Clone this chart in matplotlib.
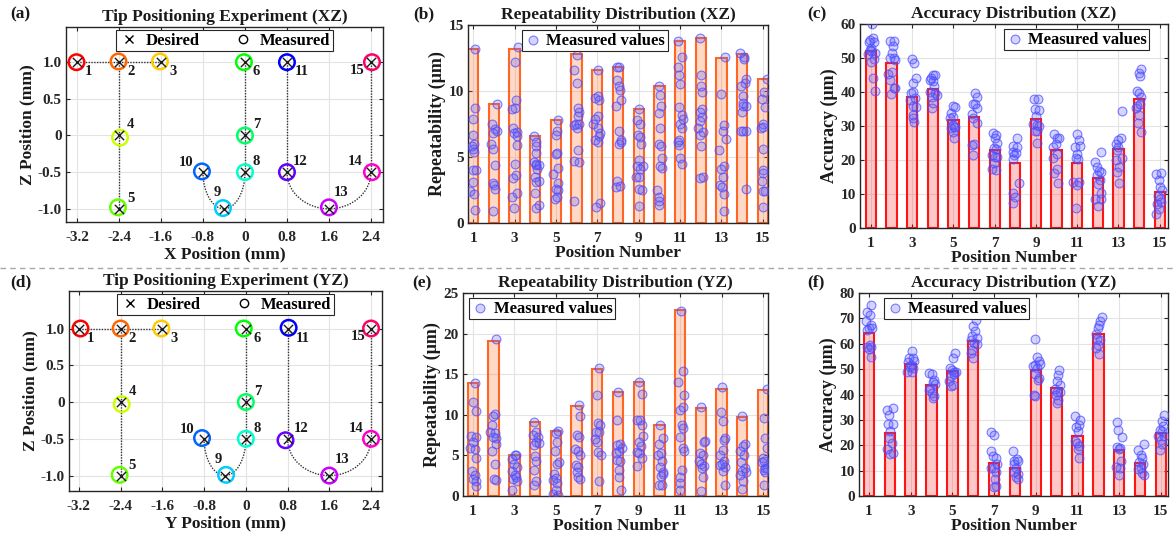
import colorsys
import matplotlib
matplotlib.use("Agg")
import matplotlib.pyplot as plt
from matplotlib.path import Path
from matplotlib.patches import PathPatch
from matplotlib.lines import Line2D

plt.rcParams['font.family'] = ['Liberation Serif', 'DejaVu Serif']
plt.rcParams['font.weight'] = 'bold'
plt.rcParams['axes.labelweight'] = 'bold'
plt.rcParams['axes.titleweight'] = 'bold'

# ---------------- data ----------------
positions = list(range(1, 16))
pos_labels = [str(p) for p in positions]

desired_h = [-3.2, -2.4, -1.6, -2.4, -2.4, 0.0, 0.0, 0.0, -0.4, -0.8, 0.8, 0.8, 1.6, 2.4, 2.4]
desired_z = [1.0, 1.0, 1.0, 0.0, -1.0, 1.0, 0.0, -0.5, -1.0, -0.5, 1.0, -0.5, -1.0, -0.5, 1.0]

meas_xz_x = [-3.21, -2.41, -1.62, -2.38, -2.42, -0.02, 0.0, 0.0, -0.42, -0.82, 0.80, 0.80, 1.60, 2.42, 2.42]
meas_xz_z = [1.0, 1.01, 1.01, -0.03, -0.98, 1.0, 0.0, -0.5, -0.99, -0.49, 1.0, -0.5, -0.98, -0.5, 1.0]
meas_yz_y = [-3.17, -2.40, -1.62, -2.38, -2.42, -0.04, 0.0, 0.0, -0.38, -0.84, 0.82, 0.76, 1.60, 2.40, 2.40]
meas_yz_z = [1.0, 1.0, 1.0, -0.03, -0.99, 1.0, 0.0, -0.5, -0.99, -0.49, 1.01, -0.52, -1.0, -0.5, 1.0]

# path: straight segments and curved segments (indices into the position lists)
straight_paths = [[0, 1, 2], [1, 3, 4], [5, 6, 7], [10, 11], [13, 14]]
curved_paths = [[9, 8, 7], [11, 12, 13]]

# Repeatability XZ (b)
rep_xz_bar = [13.2, 9.0, 13.2, 6.6, 7.8, 12.8, 11.6, 11.8, 8.6, 10.4, 13.8, 14.0, 12.5, 12.8, 10.9]
rep_xz_vals = [
    [13.2, 8.7, 7.9, 6.7, 6.0, 5.6, 5.4, 4.0, 4.0, 3.1, 2.4, 2.2, 1.0, 5.8],
    [9.0, 7.5, 7.1, 7.0, 6.8, 6.0, 5.6, 4.4, 3.0, 2.9, 2.6, 0.9],
    [13.3, 12.2, 9.3, 8.6, 8.7, 7.2, 6.9, 6.8, 6.6, 5.9, 4.5, 3.6, 3.4, 2.0, 2.3, 1.1],
    [6.6, 6.1, 5.8, 5.3, 4.6, 4.5, 4.4, 4.4, 4.1, 3.5, 3.1, 3.2, 2.3, 1.4, 1.1],
    [7.8, 7.0, 6.7, 5.3, 5.2, 4.2, 3.7, 3.0, 2.6, 2.5, 2.0, 1.8],
    [12.7, 11.6, 10.6, 8.7, 8.4, 8.1, 7.5, 7.4, 7.5, 7.2, 5.5, 4.7, 4.6, 1.7],
    [11.6, 9.5, 9.6, 9.3, 8.1, 7.9, 7.5, 7.2, 6.8, 6.6, 6.3, 6.1, 1.5, 1.2],
    [11.8, 11.8, 10.8, 10.4, 10.1, 9.3, 8.9, 7.0, 6.3, 6.0, 6.1, 3.2, 2.7, 2.8],
    [8.6, 7.8, 7.5, 6.7, 6.5, 6.0, 4.8, 4.3, 4.3, 4.1, 3.5, 3.5, 2.6, 2.5, 1.3],
    [10.4, 9.7, 8.9, 8.3, 7.2, 6.0, 5.8, 4.9, 4.3, 4.2, 2.5, 2.0, 1.7, 1.4],
    [13.8, 12.6, 11.8, 11.2, 10.5, 8.8, 8.2, 7.9, 7.5, 7.2, 6.3, 6.1, 5.9, 4.9, 4.5],
    [14.0, 11.2, 10.4, 9.9, 8.6, 8.4, 8.0, 7.7, 7.2, 6.9, 6.7, 5.8, 3.4, 3.5],
    [12.6, 9.8, 7.4, 7.0, 6.4, 5.5, 4.3, 4.1, 3.5, 2.9, 2.7, 2.2, 0.9],
    [12.9, 12.6, 12.4, 10.9, 10.6, 10.4, 9.6, 9.1, 8.9, 8.9, 8.4, 7.0, 7.0, 7.0, 2.6],
    [10.9, 9.9, 9.4, 8.8, 7.5, 7.2, 7.3, 5.6, 4.0, 3.8, 3.2, 2.4, 2.4, 1.2],
]
rep_xz_offs = [
    [0.11, 0.08, -0.03, 0.0, 0.03, 0.0, 0.05, -0.03, 0.16, 0.0, -0.13, 0.05, 0.08, -0.05],
    [0.16, -0.11, 0.05, 0.13, -0.03, -0.15, -0.03, 0.05, -0.06, 0.0, 0.05, -0.06],
    [0.18, 0.02, 0.06, -0.1, 0.02, -0.06, 0.1, -0.03, 0.1, 0.1, 0.02, 0.06, -0.06, -0.1, 0.1, -0.03],
    [-0.06, 0.06, 0.03, 0.06, -0.06, 0.06, 0.03, 0.19, 0.1, -0.02, 0.06, 0.19, -0.02, 0.19, 0.02],
    [0.11, 0.03, -0.02, 0.03, 0.0, 0.11, -0.13, 0.11, 0.0, 0.11, 0.03, -0.05],
    [0.0, -0.11, 0.03, 0.08, 0.13, 0.05, -0.03, -0.13, 0.13, 0.0, 0.05, -0.11, 0.13, -0.11],
    [0.05, -0.11, 0.05, 0.1, 0.05, -0.11, -0.19, 0.05, 0.13, 0.1, -0.11, 0.05, 0.13, -0.06],
    [-0.03, 0.06, -0.03, 0.03, 0.1, 0.13, -0.1, 0.06, 0.13, 0.06, 0.13, -0.03, -0.1, 0.1],
    [0.03, -0.1, 0.06, -0.02, 0.06, 0.1, 0.03, -0.06, 0.19, 0.06, -0.13, 0.03, 0.03, 0.15, 0.0],
    [0.0, 0.03, 0.06, 0.0, 0.03, -0.03, 0.06, 0.11, 0.03, 0.11, -0.1, 0.0, 0.0, -0.03],
    [-0.08, 0.08, -0.11, -0.03, 0.0, -0.05, 0.08, 0.13, 0.0, 0.1, -0.03, -0.11, -0.03, 0.0, 0.08],
    [-0.03, 0.0, 0.0, 0.05, 0.06, -0.06, 0.05, -0.06, -0.11, 0.13, -0.06, 0.0, -0.06, 0.13],
    [0.18, -0.03, 0.1, 0.06, 0.23, -0.1, 0.1, 0.0, 0.06, -0.06, 0.02, 0.1, 0.1],
    [-0.1, 0.1, 0.1, 0.19, 0.15, -0.06, 0.02, 0.06, 0.06, 0.19, -0.02, -0.05, 0.06, 0.18, 0.19],
    [0.19, 0.06, -0.05, 0.11, 0.03, -0.08, 0.0, 0.03, 0.0, 0.03, -0.03, 0.03, 0.11, 0.03],
]

# Accuracy XZ (c)
acc_xz_bar = [52.0, 48.5, 38.5, 41.0, 31.8, 32.7, 23.0, 19.0, 32.0, 23.0, 19.0, 14.8, 23.2, 37.8, 10.7]
acc_xz_vals = [
    [60.0, 55.8, 54.6, 54.6, 52.9, 52.4, 51.6, 51.2, 49.7, 48.7, 44.1, 40.4, 52.2, 55.4],
    [54.9, 54.9, 53.4, 51.6, 49.9, 49.9, 49.5, 45.3, 46.0, 43.6, 41.1, 39.4, 41.1],
    [49.7, 48.5, 42.6, 44.1, 39.6, 40.1, 38.2, 37.7, 35.9, 35.5, 33.2, 32.3, 31.3],
    [45.0, 45.0, 44.1, 43.1, 41.8, 40.1, 39.6, 39.1, 38.6, 36.7, 35.2, 43.6],
    [35.9, 35.5, 33.7, 32.7, 32.3, 30.3, 29.8, 29.3, 29.6, 28.3, 26.4],
    [39.8, 38.4, 36.5, 36.5, 35.2, 33.5, 32.3, 31.0, 24.4, 24.7, 21.4],
    [27.8, 27.3, 26.4, 25.1, 23.4, 23.1, 21.4, 20.9, 19.0, 17.5, 17.2, 20.9],
    [26.6, 24.1, 23.9, 22.4, 22.1, 21.4, 20.2, 13.3, 10.3, 9.1, 7.4],
    [38.0, 38.0, 34.9, 34.7, 32.9, 30.6, 30.3, 30.0, 28.6, 28.6, 25.1],
    [27.6, 26.4, 26.4, 24.7, 23.7, 21.9, 20.5, 17.5, 16.2, 13.3],
    [27.6, 25.9, 23.9, 24.1, 21.9, 20.7, 20.2, 13.6, 12.6, 13.6, 6.0],
    [22.4, 19.5, 17.8, 16.8, 16.5, 15.5, 12.9, 10.3, 8.4, 8.4, 6.4, 14.2],
    [34.5, 26.6, 25.9, 24.7, 23.9, 22.9, 20.5, 18.0, 16.5, 13.3, 20.0],
    [46.8, 45.7, 44.7, 40.4, 39.8, 38.4, 35.9, 35.2, 36.5, 33.2, 30.8, 28.3],
    [15.8, 16.2, 14.1, 12.1, 11.3, 9.3, 8.4, 7.7, 7.0, 5.7, 4.2],
]
acc_xz_offs = [
    [0.05, 0.1, -0.11, 0.13, 0.0, -0.06, 0.21, -0.15, 0.16, 0.0, 0.1, 0.21, 0.0, -0.03],
    [-0.06, 0.13, 0.06, 0.02, -0.06, 0.1, 0.18, -0.15, 0.02, -0.06, 0.1, -0.03, 0.18],
    [-0.02, 0.1, 0.03, 0.19, -0.06, 0.06, 0.15, -0.1, 0.06, 0.19, 0.03, 0.06, 0.1],
    [0.0, 0.11, -0.1, 0.0, 0.06, -0.13, 0.11, 0.19, -0.05, 0.0, -0.05, -0.16],
    [-0.03, 0.08, -0.13, 0.0, -0.16, -0.03, 0.03, -0.13, 0.08, -0.03, 0.03],
    [0.05, 0.13, -0.06, 0.05, 0.16, -0.11, -0.03, 0.13, -0.11, 0.0, -0.06],
    [-0.06, 0.06, 0.02, 0.1, -0.03, 0.06, -0.15, 0.02, -0.03, -0.15, 0.06, 0.1],
    [0.1, -0.1, 0.1, -0.13, 0.03, -0.06, -0.1, 0.19, -0.1, 0.0, -0.1],
    [-0.1, 0.11, -0.05, 0.16, 0.0, -0.13, 0.06, 0.16, -0.05, 0.06, 0.03],
    [-0.13, 0.03, 0.13, -0.03, -0.19, 0.03, -0.16, 0.0, -0.13, 0.08],
    [-0.03, 0.1, -0.11, 0.13, 0.0, -0.06, 0.05, -0.19, -0.03, 0.1, -0.06],
    [0.13, -0.15, -0.03, 0.06, 0.13, -0.06, 0.02, 0.13, -0.15, 0.13, 0.02, 0.1],
    [0.15, 0.1, 0.0, -0.13, 0.0, -0.06, 0.15, 0.03, -0.06, 0.03, -0.1],
    [0.11, 0.0, 0.03, -0.1, 0.0, 0.11, -0.1, -0.16, 0.03, 0.0, -0.05, 0.11],
    [-0.16, 0.08, -0.03, 0.03, 0.13, -0.08, 0.0, 0.08, -0.13, -0.03, -0.16],
]

# Repeatability YZ (e)
rep_yz_bar = [13.9, 19.1, 5.1, 9.1, 8.0, 11.1, 15.7, 12.8, 14.1, 8.8, 22.9, 10.8, 13.2, 9.7, 13.1]
rep_yz_vals = [
    [13.9, 11.6, 10.5, 7.4, 7.3, 6.7, 5.9, 5.8, 4.7, 3.1, 2.6, 2.1, 1.9, 1.2],
    [19.3, 10.1, 9.8, 8.8, 7.9, 7.7, 7.3, 7.1, 6.4, 5.6, 4.0, 2.1, 2.0],
    [5.1, 5.0, 4.6, 4.0, 3.6, 3.1, 2.6, 2.4, 2.1, 1.8, 0.7],
    [9.1, 7.9, 7.5, 7.3, 6.7, 6.3, 6.5, 4.9, 4.3, 3.2, 1.8, 1.4],
    [8.0, 7.7, 6.7, 5.5, 4.2, 3.9, 2.7, 2.2, 2.0, 1.6, 0.7, 0.2, 0.1],
    [11.2, 9.8, 7.5, 7.3, 5.8, 5.6, 5.1, 3.8, 3.6, 3.0, 2.4, 2.1],
    [15.8, 12.4, 9.0, 8.8, 7.9, 7.9, 6.7, 7.0, 5.4, 5.1, 1.8],
    [12.8, 9.3, 6.4, 6.3, 5.3, 5.6, 5.9, 4.4, 4.3, 3.2, 2.4, 0.7],
    [14.1, 12.6, 9.4, 8.8, 9.4, 7.4, 6.6, 6.2, 5.4, 5.3, 4.7, 3.7],
    [8.8, 7.1, 6.4, 5.3, 5.0, 4.3, 3.6, 2.9, 2.5, 2.7, 1.4, 1.3],
    [22.8, 15.4, 10.6, 12.4, 11.0, 8.8, 8.4, 7.3, 5.9, 5.6, 3.2, 2.3, 1.6, 0.7, 14.1],
    [10.9, 5.3, 5.0, 4.3, 4.0, 3.7, 3.5, 6.6, 2.3, 0.6, 6.8],
    [13.4, 10.3, 9.2, 7.2, 6.9, 5.7, 5.0, 4.3, 3.9, 3.8, 3.6, 3.1, 1.4],
    [9.9, 6.1, 6.4, 5.6, 5.1, 4.2, 3.5, 3.1, 2.9, 2.6, 1.9, 0.9],
    [13.2, 9.6, 7.2, 5.9, 4.7, 4.3, 4.2, 3.5, 3.2, 3.4, 3.0, 1.4],
]
rep_yz_offs = [
    [0.08, 0.0, 0.16, -0.08, 0.13, 0.0, -0.13, 0.08, 0.13, -0.03, 0.08, 0.0, 0.16, 0.13],
    [0.13, 0.05, -0.03, -0.06, -0.16, 0.05, -0.03, 0.13, 0.1, -0.06, 0.05, 0.0, 0.1],
    [0.02, 0.1, -0.1, -0.03, 0.13, -0.1, 0.02, 0.1, -0.06, 0.13, -0.1],
    [-0.06, 0.03, -0.1, 0.15, 0.06, -0.06, 0.19, -0.02, 0.06, -0.06, 0.03, -0.06],
    [0.11, 0.0, 0.06, -0.05, 0.16, 0.06, -0.1, 0.0, -0.13, 0.06, 0.0, -0.13, 0.11],
    [0.13, 0.16, 0.0, 0.13, -0.08, 0.08, 0.19, -0.03, 0.08, 0.0, 0.08, 0.16],
    [0.1, -0.03, 0.05, 0.13, -0.06, 0.1, 0.0, -0.11, 0.05, 0.16, 0.1],
    [0.02, -0.06, 0.1, -0.03, -0.1, 0.06, 0.18, -0.06, 0.1, 0.06, 0.06, 0.13],
    [0.03, 0.15, -0.1, 0.15, 0.06, 0.19, 0.03, 0.1, -0.06, 0.03, 0.15, -0.06],
    [0.03, 0.16, 0.0, 0.06, -0.05, 0.11, 0.03, 0.16, 0.06, 0.19, 0.0, 0.11],
    [0.05, 0.13, -0.03, 0.19, 0.16, 0.08, 0.13, -0.03, 0.16, 0.19, 0.08, 0.0, -0.03, -0.03, -0.08],
    [0.0, -0.03, 0.1, -0.11, 0.0, 0.13, 0.05, 0.16, 0.1, 0.0, 0.21],
    [0.02, -0.03, 0.06, 0.18, 0.13, 0.06, -0.06, 0.1, 0.02, -0.06, 0.18, 0.06, 0.18],
    [-0.02, 0.03, 0.15, -0.1, 0.06, -0.06, 0.15, -0.02, 0.19, -0.13, 0.03, -0.02],
    [0.19, 0.03, 0.11, 0.19, 0.0, 0.06, -0.05, 0.11, 0.03, 0.19, 0.11, 0.03],
]

# Accuracy YZ (f)
acc_yz_bar = [64.3, 25.0, 52.0, 43.8, 49.3, 61.0, 13.0, 11.0, 49.5, 42.5, 23.5, 64.0, 18.0, 13.0, 25.0]
acc_yz_vals = [
    [72.5, 75.1, 71.5, 68.9, 66.2, 67.3, 66.2, 65.6, 59.4, 58.6, 58.6, 58.1, 54.7],
    [33.7, 34.5, 32.1, 28.2, 28.2, 25.6, 23.0, 21.0, 18.4, 16.7, 17.0],
    [57.0, 54.4, 54.2, 52.9, 51.8, 53.1, 50.8, 48.9, 48.9, 50.5],
    [48.4, 47.9, 45.9, 45.0, 44.2, 42.6, 41.6, 40.7, 39.3, 38.7],
    [56.4, 54.4, 50.5, 49.8, 48.9, 48.9, 47.2, 45.5, 43.9, 43.3, 48.1],
    [69.5, 66.9, 64.9, 62.9, 62.3, 61.6, 60.3, 59.9, 57.7, 56.4, 54.4],
    [25.3, 24.0, 17.7, 15.7, 14.8, 11.1, 11.1, 12.5, 9.6, 6.6, 3.5, 3.9],
    [17.7, 14.4, 13.8, 13.8, 12.5, 11.1, 9.6, 8.8, 7.5, 6.6],
    [62.0, 54.7, 53.1, 51.8, 51.1, 52.1, 50.5, 48.1, 46.6, 45.9, 40.0, 39.3],
    [49.8, 47.6, 45.2, 43.7, 42.0, 41.0, 40.0, 38.0, 36.7, 41.0],
    [31.5, 29.8, 27.1, 27.9, 25.6, 21.6, 21.0, 19.7, 18.4, 15.1],
    [70.4, 69.1, 67.3, 66.2, 63.9, 62.0, 61.6, 59.7, 58.4, 56.0],
    [29.2, 26.2, 23.2, 19.3, 19.0, 18.4, 13.8, 11.4, 11.1, 8.3],
    [18.0, 20.6, 16.1, 15.1, 13.5, 12.7, 11.1, 10.5, 9.2, 8.3],
    [31.9, 29.5, 27.5, 26.2, 25.6, 23.6, 23.6, 21.9, 20.3, 18.0],
]
acc_yz_offs = [
    [-0.1, 0.11, 0.06, -0.16, 0.0, 0.11, 0.16, -0.1, 0.03, -0.1, 0.11, 0.0, 0.11],
    [-0.13, 0.13, -0.03, -0.08, 0.13, 0.03, -0.03, 0.08, -0.13, 0.0, 0.13],
    [0.05, -0.06, 0.1, -0.11, 0.0, 0.16, -0.03, -0.19, 0.05, 0.13],
    [-0.1, 0.02, 0.13, 0.06, 0.18, -0.06, -0.14, 0.02, 0.1, 0.06],
    [0.14, 0.03, -0.13, -0.02, 0.06, 0.19, -0.06, -0.18, 0.03, -0.06, 0.1],
    [0.11, 0.0, 0.06, -0.05, 0.16, -0.1, 0.03, 0.19, -0.05, -0.13, 0.0],
    [-0.13, 0.0, -0.13, -0.03, 0.08, -0.16, 0.0, 0.13, 0.08, 0.03, 0.0, 0.08],
    [-0.11, 0.1, -0.03, 0.16, -0.06, 0.05, -0.03, 0.13, 0.05, 0.16],
    [-0.06, 0.06, 0.14, -0.02, -0.13, 0.19, 0.06, -0.06, 0.14, 0.1, -0.1, -0.02],
    [0.11, 0.06, 0.0, 0.16, -0.1, 0.03, -0.05, 0.06, 0.0, 0.16],
    [-0.13, 0.13, -0.08, 0.08, 0.0, -0.13, -0.03, 0.08, 0.0, 0.08],
    [0.16, 0.1, 0.05, -0.03, -0.11, -0.06, 0.1, -0.03, -0.11, 0.05],
    [-0.1, -0.06, 0.13, -0.1, 0.06, -0.03, 0.1, -0.14, 0.02, -0.03],
    [-0.1, 0.19, 0.03, 0.1, -0.06, 0.14, 0.03, -0.1, 0.1, 0.19],
    [0.16, 0.03, 0.11, -0.05, 0.06, -0.13, 0.16, 0.0, 0.06, -0.05],
]

# ---------------- style / layout ----------------
FS_TICK = 11
FS_LABEL = 12.5
FS_TITLE = 12.5
GRID_C = '#E3E3E3'
SPINE_C = '#262626'
LABEL_C = '#262626'

point_colors = [colorsys.hsv_to_rgb(i / 15.0, 1.0, 1.0) for i in range(15)]
# (ha, va, dx_pixels, dy_pixels) per position-number label
label_layout = [
    ('left', 'top', 8, -3), ('left', 'top', 8, -3), ('left', 'top', 8, -3),
    ('left', 'bottom', 8, 4), ('left', 'bottom', 8, 4),
    ('left', 'top', 8, -3), ('left', 'bottom', 8, 4), ('left', 'bottom', 8, 4),
    ('right', 'bottom', -3, 10), ('right', 'bottom', -10, 3),
    ('left', 'top', 8, -3), ('left', 'bottom', 6, 4), ('left', 'bottom', 5, 10),
    ('right', 'bottom', -8, 4), ('right', 'top', -6, -2),
]

W, H = 1173, 537
fig = plt.figure(figsize=(W / 100, H / 100), dpi=100)


def rect(l, r, t, b):
    return [l / W, 1 - b / H, (r - l) / W, (b - t) / H]


def style_axes(ax):
    for s in ax.spines.values():
        s.set_color(SPINE_C)
        s.set_linewidth(1.0)
    ax.tick_params(direction='in', top=True, right=True, length=3, width=0.8,
                   labelsize=FS_TICK, colors=SPINE_C, labelcolor=LABEL_C)
    ax.tick_params(axis='x', pad=6.5)
    ax.tick_params(axis='y', pad=3)
    for lab in ax.get_xticklabels() + ax.get_yticklabels():
        lab.set_fontweight('bold')
    ax.grid(True, color=GRID_C, linewidth=0.8)
    ax.set_axisbelow(True)


def bezier_path(pts):
    # smooth U-shaped curve through three points using quarter-ellipse Beziers
    k = 0.5523
    (x0, y0), (x1, y1), (x2, y2) = pts
    verts = [(x0, y0),
             (x0, y0 + k * (y1 - y0)), (x1 - k * (x1 - x0), y1), (x1, y1),
             (x1 + k * (x2 - x1), y1), (x2, y2 - k * (y2 - y1)), (x2, y2)]
    codes = [Path.MOVETO] + [Path.CURVE4] * 6
    return Path(verts, codes)


def tip_panel(ax, mx, mz, title, xlabel, xlim, ylim):
    for seg in straight_paths:
        ax.plot([desired_h[i] for i in seg], [desired_z[i] for i in seg],
                color='#333333', linestyle=(0, (1, 1)), linewidth=1.0, zorder=2)
    for seg in curved_paths:
        p = bezier_path([(desired_h[i], desired_z[i]) for i in seg])
        ax.add_patch(PathPatch(p, fill=False, edgecolor='#333333',
                               linestyle=(0, (1, 1)), linewidth=1.0, zorder=2))
    ax.scatter(mx, mz, s=125, facecolors='none', edgecolors=point_colors,
               linewidths=1.8, zorder=3)
    ax.scatter(desired_h, desired_z, s=45, marker='x', color='#1a1a1a',
               linewidths=1.0, zorder=4)
    for i, lab in enumerate(pos_labels):
        ha, va, dx, dy = label_layout[i]
        ax.annotate(lab, (desired_h[i], desired_z[i]), xytext=(dx, dy),
                    textcoords='offset pixels', ha=ha, va=va,
                    fontsize=10.5, fontweight='bold', color='#1a1a1a', zorder=5)
    h1 = Line2D([], [], linestyle='none', marker='x', color='k', markersize=6, markeredgewidth=1.0)
    h2 = Line2D([], [], linestyle='none', marker='o', markerfacecolor='none',
                markeredgecolor='k', markersize=6, markeredgewidth=1.0)
    leg = ax.legend([h1, h2], ['Desired', 'Measured'], ncol=2, loc='upper center',
                    bbox_to_anchor=(0.5, 1.0), fancybox=False, framealpha=1,
                    edgecolor='#262626', prop={'weight': 'bold', 'size': 12},
                    borderpad=0.15, handletextpad=0.4, columnspacing=2.0,
                    handlelength=1.2, borderaxespad=0.2)
    leg.get_frame().set_linewidth(0.8)
    ax.set_xlim(*xlim)
    ax.set_ylim(*ylim)
    ax.set_xticks([-3.2, -2.4, -1.6, -0.8, 0, 0.8, 1.6, 2.4])
    ax.set_xticklabels(['-3.2', '-2.4', '-1.6', '-0.8', '0', '0.8', '1.6', '2.4'])
    ax.set_yticks([-1.0, -0.5, 0, 0.5, 1.0])
    ax.set_yticklabels(['-1.0', '-0.5', '0', '0.5', '1.0'])
    ax.set_title(title, fontsize=FS_TITLE, fontweight='bold', pad=4, color='#1a1a1a')
    ax.set_xlabel(xlabel, fontsize=FS_LABEL, fontweight='bold', labelpad=1.5, color='#1a1a1a')
    ax.set_ylabel('Z Position (mm)', fontsize=FS_LABEL, fontweight='bold', labelpad=2, color='#1a1a1a')
    style_axes(ax)


def bar_panel(ax, bars, vals, offs, edge, face, title, ylabel, ylim, yticks, xlim,
              leg_loc, leg_anchor):
    ax.bar(positions, bars, width=0.5, facecolor=face, edgecolor=edge,
           linewidth=1.5, zorder=2)
    xs, ys = [], []
    for p, vl, ol in zip(positions, vals, offs):
        for v, o in zip(vl, ol):
            xs.append(p + o)
            ys.append(v)
    sc = ax.scatter(xs, ys, s=40, facecolors=(0.35, 0.35, 1.0, 0.26),
                    edgecolors=(0.3, 0.3, 1.0, 0.72), linewidths=0.8, zorder=3,
                    label='Measured values')
    leg = ax.legend(handles=[sc], loc=leg_loc, bbox_to_anchor=leg_anchor,
                    fancybox=False, framealpha=1, edgecolor='#262626',
                    prop={'weight': 'bold', 'size': 12}, borderpad=0.15,
                    handletextpad=0.3, handlelength=1.0, borderaxespad=0.2)
    leg.get_frame().set_linewidth(0.8)
    ax.set_xlim(*xlim)
    ax.set_ylim(*ylim)
    ax.set_xticks(positions[::2])
    ax.set_xticklabels(pos_labels[::2])
    ax.set_yticks(yticks)
    ax.set_title(title, fontsize=FS_TITLE, fontweight='bold', pad=4, color='#1a1a1a')
    ax.set_xlabel('Position Number', fontsize=FS_LABEL, fontweight='bold', labelpad=0, color='#1a1a1a')
    ax.set_ylabel(ylabel, fontsize=FS_LABEL + 0.5, fontweight='bold', labelpad=2, color='#1a1a1a')
    style_axes(ax)


ORANGE = (1.0, 0.40, 0.15)
ORANGE_F = (1.0, 0.45, 0.2, 0.28)
RED = (1.0, 0.08, 0.08)
RED_F = (1.0, 0.15, 0.15, 0.25)

ax_a = fig.add_axes(rect(66, 383, 27, 222))
tip_panel(ax_a, meas_xz_x, meas_xz_z, 'Tip Positioning Experiment (XZ)', 'X Position (mm)',
          (-3.41, 2.63), (-1.18, 1.48))
ax_b = fig.add_axes(rect(468, 768, 25, 223))
bar_panel(ax_b, rep_xz_bar, rep_xz_vals, rep_xz_offs, ORANGE, ORANGE_F,
          'Repeatability Distribution (XZ)', 'Repeatability (μm)', (0, 15), [0, 5, 10, 15],
          (0.75, 15.25), 'upper left', (0.17, 0.99))
ax_c = fig.add_axes(rect(860, 1168, 24, 228))
bar_panel(ax_c, acc_xz_bar, acc_xz_vals, acc_xz_offs, RED, RED_F,
          'Accuracy Distribution (XZ)', 'Accuracy (μm)', (0, 60), [0, 10, 20, 30, 40, 50, 60],
          (0.47, 15.4), 'upper right', (0.95, 0.99))
ax_d = fig.add_axes(rect(69, 382, 291, 491))
tip_panel(ax_d, meas_yz_y, meas_yz_z, 'Tip Positioning Experiment (YZ)', 'Y Position (mm)',
          (-3.39, 2.61), (-1.21, 1.51))
ax_e = fig.add_axes(rect(463, 768, 293, 496))
bar_panel(ax_e, rep_yz_bar, rep_yz_vals, rep_yz_offs, ORANGE, ORANGE_F,
          'Repeatability Distribution (YZ)', 'Repeatability (μm)', (0, 25), [0, 5, 10, 15, 20, 25],
          (0.52, 15.24), 'upper left', (0.01, 0.99))
ax_f = fig.add_axes(rect(859, 1168, 293, 496))
bar_panel(ax_f, acc_yz_bar, acc_yz_vals, acc_yz_offs, RED, RED_F,
          'Accuracy Distribution (YZ)', 'Accuracy (μm)', (0, 80), [0, 10, 20, 30, 40, 50, 60, 70, 80],
          (0.52, 15.34), 'upper left', (0.07, 0.99))

# panel letters
for txt, px, py in [('(a)', 10, 14), ('(b)', 413, 14), ('(c)', 807, 14),
                    ('(d)', 10, 282), ('(e)', 412, 283), ('(f)', 807, 282)]:
    fig.text(px / W, 1 - py / H, txt, fontsize=12.5, fontweight='bold',
             ha='left', va='center', color='#1a1a1a')

# dashed separator
fig.add_artist(Line2D([0.0, 1.0], [1 - 268 / H, 1 - 268 / H], transform=fig.transFigure,
                      color='#A8A8A8', linestyle=(0, (4, 3)), linewidth=1.0))

fig.savefig('out.png', dpi=100, facecolor='white')
